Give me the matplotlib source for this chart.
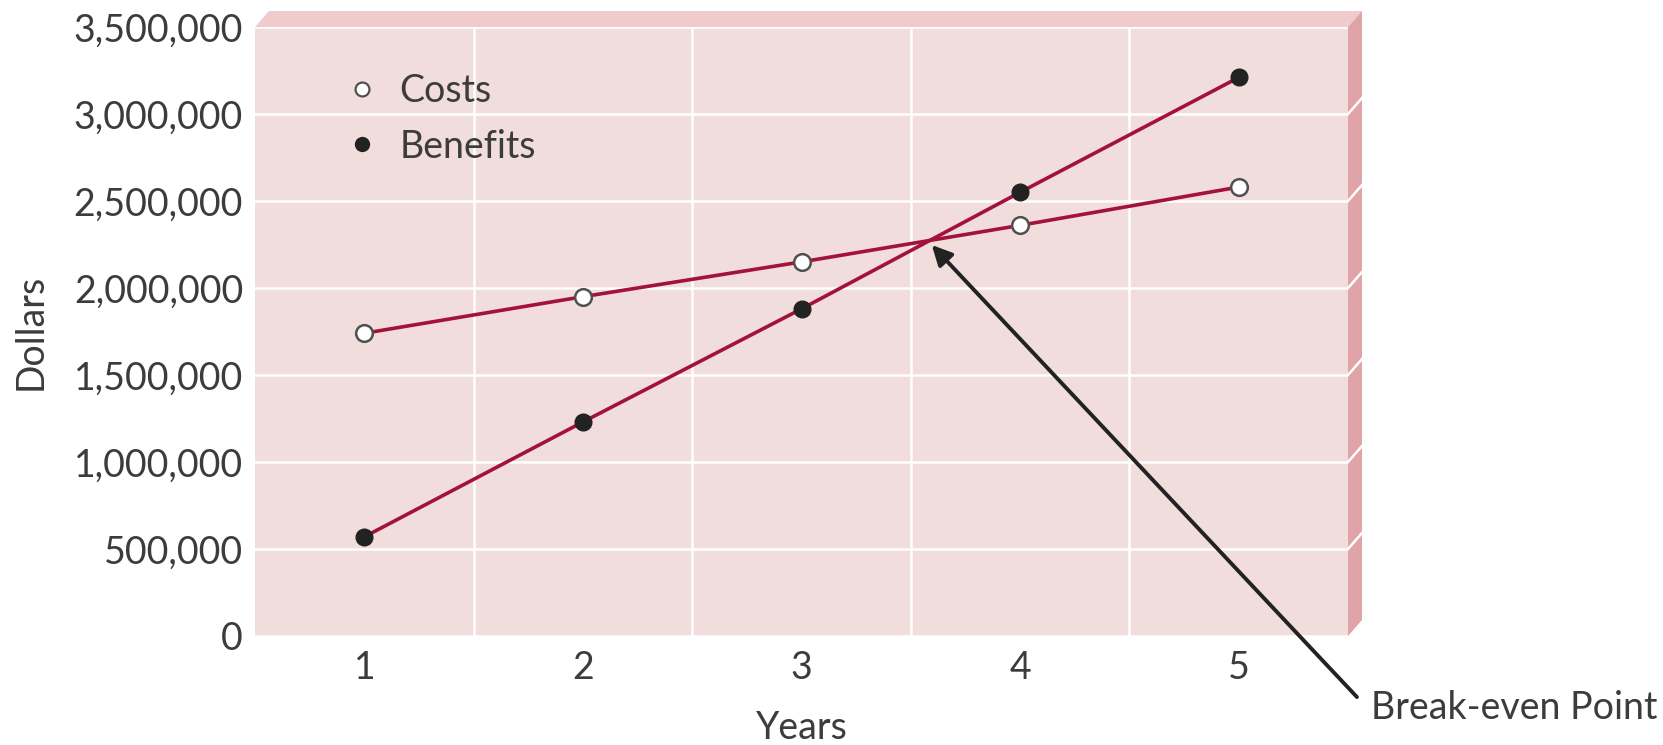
import numpy as np
import matplotlib.pyplot as plt
from matplotlib.lines import Line2D
from matplotlib.patches import Polygon
from matplotlib.ticker import FuncFormatter

plt.rcParams['font.family'] = ['Lato', 'DejaVu Sans']

years = [1, 2, 3, 4, 5]
costs = [1740000, 1950000, 2150000, 2360000, 2580000]
benefits = [570000, 1230000, 1880000, 2550000, 3210000]
yticks = [0, 500000, 1000000, 1500000, 2000000, 2500000, 3000000, 3500000]
breakeven = (3.596, 2247000)

face = '#f2dddd'
top_band = '#efcbcc'
side_band = '#e0a3a7'
line_col = '#a3123a'
txt = '#3c3c3c'
fs = 27

fig = plt.figure(figsize=(16.63, 7.45), dpi=100)
ax = fig.add_axes([255/1663, 109/745, 1093/1663, 609/745])
ax.set_facecolor(face)
ax.set_xlim(0.5, 5.5)
ax.set_ylim(0, 3500000)

# box depth, drawn as two bands above and to the right of the face
dx, dy = 14/1093, 16/609
ax.add_patch(Polygon([(0, 1), (dx, 1+dy), (1+dx, 1+dy), (1, 1)], transform=ax.transAxes,
                     clip_on=False, fc=top_band, ec='none', zorder=0))
ax.add_patch(Polygon([(1, 1), (1+dx, 1+dy), (1+dx, dy), (1, 0)], transform=ax.transAxes,
                     clip_on=False, fc=side_band, ec='none', zorder=0))
for v in yticks[1:-1]:
    yf = v / 3500000
    ax.plot([1, 1+dx], [yf, yf+dy], color='white', lw=1.8, transform=ax.transAxes,
            clip_on=False, zorder=1)

ax.set_xticks(years)
ax.set_xticks([1.5, 2.5, 3.5, 4.5], minor=True)
ax.set_yticks(yticks)
ax.yaxis.set_major_formatter(FuncFormatter(lambda v, p: '{:,.0f}'.format(v)))
ax.grid(which='minor', axis='x', color='white', lw=1.8)
ax.grid(which='major', axis='y', color='white', lw=1.8)
ax.grid(which='major', axis='x', visible=False)
ax.set_axisbelow(True)
for s in ax.spines.values():
    s.set_visible(False)
ax.tick_params(which='both', length=0, labelsize=fs, colors=txt)
ax.tick_params(axis='x', pad=10)
ax.tick_params(axis='y', pad=8.6)

ax.plot(years, costs, color=line_col, lw=2.6, zorder=3)
ax.plot(years, benefits, color=line_col, lw=2.6, zorder=3)
ax.plot(years, costs, 'o', ms=12, mfc='white', mec='#505050', mew=1.8, zorder=4)
ax.plot(years, benefits, 'o', ms=12, mfc='#222222', mec='#222222', mew=1, zorder=4)

ax.set_ylabel('Dollars', fontsize=fs, color=txt)
ax.yaxis.set_label_coords(-0.189, 0.5)
ax.set_xlabel('Years', fontsize=fs, color=txt)
ax.xaxis.set_label_coords(0.5, -0.1215)

handles = [Line2D([], [], marker='o', ls='none', ms=10, mfc='white', mec='#505050', mew=1.6),
           Line2D([], [], marker='o', ls='none', ms=10, mfc='#222222', mec='#222222')]
ax.legend(handles, ['Costs', 'Benefits'], loc='upper left', bbox_to_anchor=(0.084, 0.925),
          frameon=False, fontsize=fs, labelcolor=txt, handlelength=0.8, handletextpad=0.6,
          labelspacing=0.53, borderpad=0, borderaxespad=0)

ax.annotate('', xy=breakeven, xytext=(5.541, -351000), annotation_clip=False,
            arrowprops=dict(arrowstyle='-|>', mutation_scale=30, lw=2.8, color='#222222',
                            shrinkA=0, shrinkB=0))
ax.text(5.606, -414000, 'Break-even Point', fontsize=fs, color=txt, ha='left', va='center',
        clip_on=False)

fig.savefig('out.png', dpi=100)
